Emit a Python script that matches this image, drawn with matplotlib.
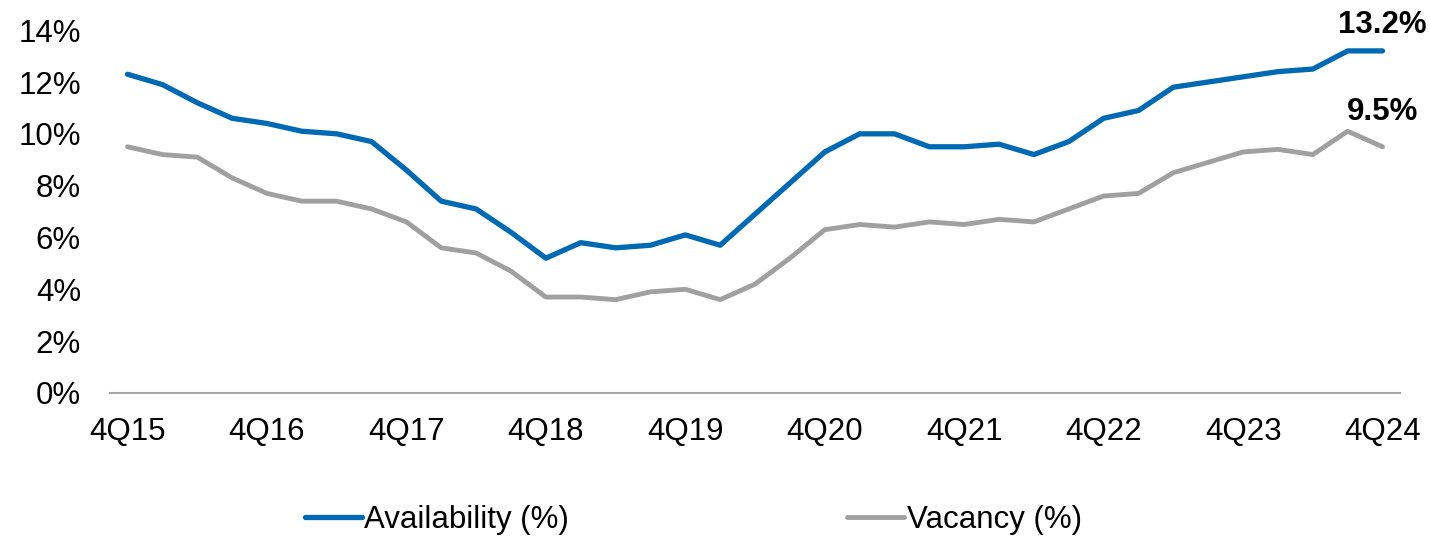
import matplotlib
matplotlib.use("Agg")
import matplotlib.pyplot as plt
import numpy as np

plt.rcParams['font.family'] = ['Liberation Sans', 'DejaVu Sans']

# quarterly series, 4Q15 .. 4Q24
availability = [12.3, 11.9, 11.2, 10.6, 10.4, 10.1, 10.0, 9.7, 8.6, 7.4,
                7.1, 6.2, 5.2, 5.8, 5.6, 5.7, 6.1, 5.7, 6.9, 8.1,
                9.3, 10.0, 10.0, 9.5, 9.5, 9.6, 9.2, 9.7, 10.6, 10.9,
                11.8, 12.0, 12.2, 12.4, 12.5, 13.2, 13.2]
vacancy = [9.5, 9.2, 9.1, 8.3, 7.7, 7.4, 7.4, 7.1, 6.6, 5.6,
           5.4, 4.7, 3.7, 3.7, 3.6, 3.9, 4.0, 3.6, 4.2, 5.2,
           6.3, 6.5, 6.4, 6.6, 6.5, 6.7, 6.6, 7.1, 7.6, 7.7,
           8.5, 8.9, 9.3, 9.4, 9.2, 10.1, 9.5]
year_labels = ['4Q15', '4Q16', '4Q17', '4Q18', '4Q19',
               '4Q20', '4Q21', '4Q22', '4Q23', '4Q24']
yticks = [0, 2, 4, 6, 8, 10, 12, 14]

blue = '#0069B4'
grey = '#A0A0A0'
fs = 22.5

x = np.arange(len(availability))

fig = plt.figure(figsize=(14.3, 5.39), dpi=100)
ax = fig.add_axes([0.077, 0.271, 0.902, 0.673])

ax.plot(x, availability, color=blue, lw=3.8, solid_capstyle='round',
        solid_joinstyle='round', label='Availability (%)')
ax.plot(x, vacancy, color=grey, lw=3.5, solid_capstyle='round',
        solid_joinstyle='round', label='Vacancy (%)')

ax.annotate(f"{availability[-1]:.1f}%", (x[-1], availability[-1]),
            xytext=(0, 19), textcoords='offset points', ha='center',
            va='center', fontsize=fs, fontweight='bold')
ax.annotate(f"{vacancy[-1]:.1f}%", (x[-1], vacancy[-1]),
            xytext=(0, 25), textcoords='offset points', ha='center',
            va='center', fontsize=fs, fontweight='bold')

ax.set_xlim(-0.5, len(x) - 0.5)
ax.set_ylim(0, 14)
ax.set_yticks(yticks)
ax.set_yticklabels([f"{v}%" for v in yticks])
ax.set_xticks(x[::4])
ax.set_xticklabels(year_labels)
ax.tick_params(axis='both', length=0, labelsize=fs)
ax.tick_params(axis='y', pad=21)
ax.tick_params(axis='x', pad=17)

for s in ['top', 'right', 'left']:
    ax.spines[s].set_visible(False)
ax.spines['bottom'].set_color('#A6A6A6')
ax.spines['bottom'].set_linewidth(1.5)

fig.legend(loc='center', bbox_to_anchor=(0.485, 0.035), ncol=2,
           frameon=False, fontsize=fs, handlelength=1.82, handletextpad=0.08,
           columnspacing=8.9)

fig.savefig('out.png', dpi=100)
